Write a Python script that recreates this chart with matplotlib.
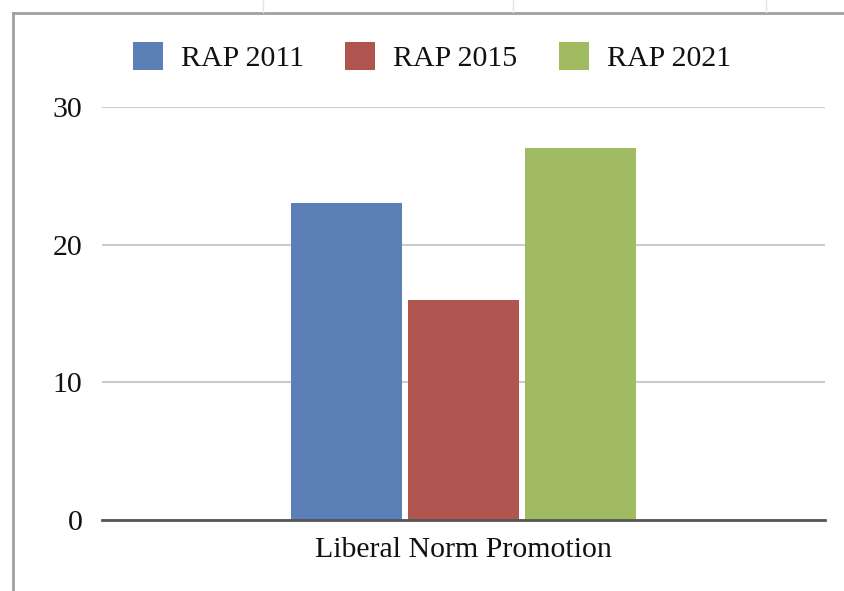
import matplotlib
matplotlib.use("Agg")
import matplotlib.pyplot as plt
from matplotlib.lines import Line2D

plt.rcParams['font.family'] = ['Liberation Serif', 'DejaVu Serif']

categories = ["Liberal Norm Promotion"]
series_names = ["RAP 2011", "RAP 2015", "RAP 2021"]
values = [23, 16, 27]
colors = ["#5b7fb6", "#b0554f", "#a1bb63"]
y_ticks = [0, 10, 20, 30]

fig = plt.figure(figsize=(8.44, 5.91), dpi=100)
ax = fig.add_axes([102 / 844, 1 - 520 / 591, 723 / 844, 413 / 591])

width = 0.154
step = 0.162
for i, (name, val, col) in enumerate(zip(series_names, values, colors)):
    ax.bar(0 + (i - 1) * step, val, width=width, color=col, label=name, zorder=3)

ax.set_xlim(-0.5, 0.5)
ax.set_ylim(0, 30)
ax.set_yticks(y_ticks)
ax.set_xticks([0])
ax.set_xticklabels(categories)
ax.tick_params(axis='both', length=0, labelsize=21.5, colors='#111111')
ax.tick_params(axis='y', pad=14)
ax.tick_params(axis='x', pad=12)
ax.grid(axis='y', color='#cccccc', linewidth=1.5, zorder=0)
for s in ['top', 'right', 'left']:
    ax.spines[s].set_visible(False)
ax.spines['bottom'].set_color('#555555')
ax.spines['bottom'].set_linewidth(2)
ax.spines['bottom'].set_zorder(4)

leg = fig.legend(loc='center', bbox_to_anchor=(432 / 844, 1 - 57 / 591), ncol=3,
                 frameon=False, fontsize=21.5, handlelength=1.0, handleheight=1.1,
                 handletextpad=0.6, columnspacing=1.4)
for t in leg.get_texts():
    t.set_color('#111111')

# sheet border and cell marks
fig.add_artist(Line2D([13 / 844, 13 / 844], [0, 1 - 13 / 591], transform=fig.transFigure,
                      color='#a0a0a0', lw=2))
fig.add_artist(Line2D([13 / 844, 1], [1 - 13 / 591, 1 - 13 / 591], transform=fig.transFigure,
                      color='#a0a0a0', lw=2))
for xm in [263, 513, 766]:
    fig.add_artist(Line2D([xm / 844, xm / 844], [1 - 12 / 591, 1], transform=fig.transFigure,
                          color='#e4e4e4', lw=1))

fig.savefig("out.png", dpi=100)
